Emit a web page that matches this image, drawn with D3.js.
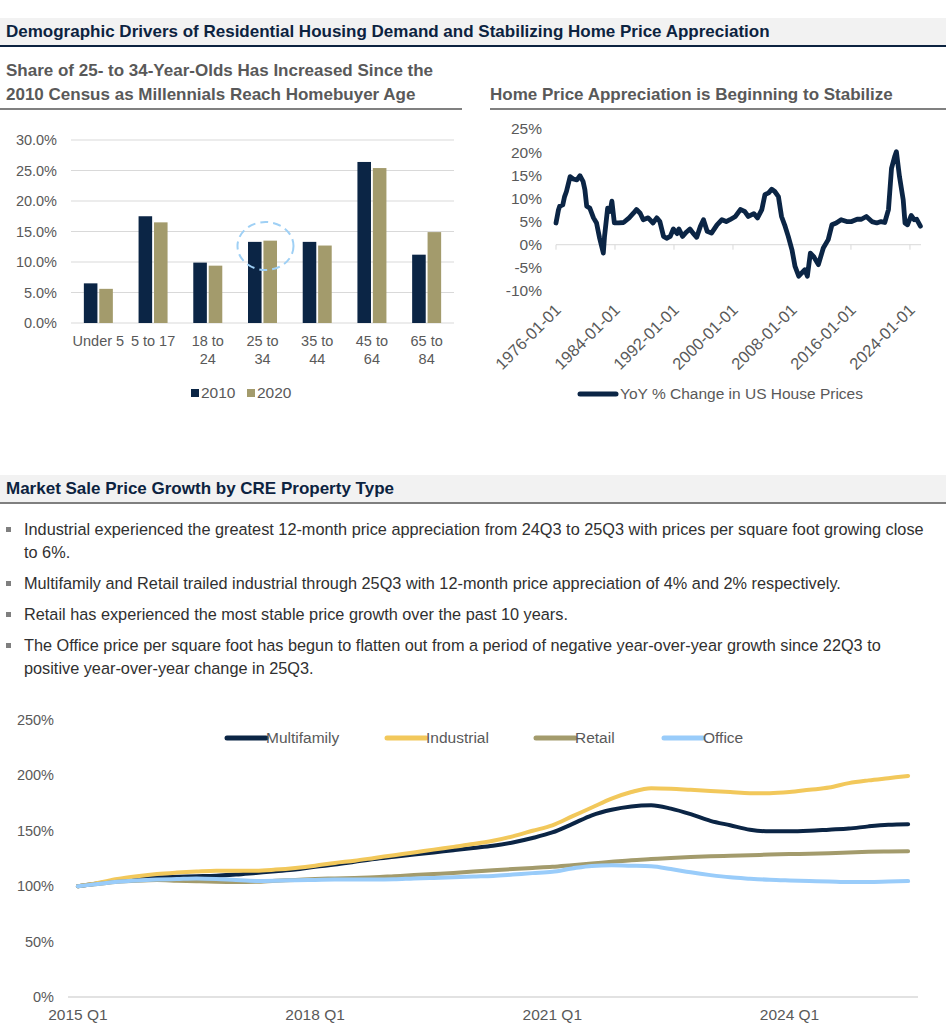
<!DOCTYPE html>
<html lang="en">
<head>
<meta charset="UTF-8" />
<title>Demographic Drivers / CRE Price Growth</title>
<script src="https://d3js.org/d3.v7.min.js"></script>
<style>
  body { margin: 0; background: #fff; }
  svg { display: block; font-family: "Liberation Sans", Arial, sans-serif; }
  .axis text { fill: #595959; font-size: 14.5px; }
  .axis.big text { font-size: 15.5px; }
</style>
</head>
<body>
<svg id="page" width="949" height="1030"></svg>
<script>
// ---- data: population share by age group ----
const ageGroups = ["Under 5", "5 to 17", "18 to 24", "25 to 34", "35 to 44", "45 to 64", "65 to 84"];
const ageLabels = [["Under 5"], ["5 to 17"], ["18 to", "24"], ["25 to", "34"], ["35 to", "44"], ["45 to", "64"], ["65 to", "84"]];
const share2010 = [6.5, 17.5, 9.9, 13.3, 13.3, 26.4, 11.2];
const share2020 = [5.6, 16.5, 9.4, 13.5, 12.7, 25.4, 14.9];
const shareTicks = [0, 5, 10, 15, 20, 25, 30];

// ---- data: YoY % change in US house prices ----
const hpiDates = [1976.0, 1976.3, 1976.5, 1976.9, 1977.2, 1977.4, 1977.9, 1978.3, 1978.8, 1979.25, 1979.7, 1979.9,
  1980.2, 1980.6, 1981.1, 1981.5, 1981.9, 1982.4, 1982.6, 1983.0, 1983.3, 1983.55, 1983.9, 1984.5, 1985.2, 1985.9,
  1986.5, 1986.9, 1987.4, 1987.8, 1988.5, 1989.2, 1989.65, 1990.1, 1990.55, 1991.0, 1991.5, 1991.9, 1992.4, 1992.7,
  1993.2, 1993.7, 1994.2, 1994.6, 1995.1, 1995.6, 1996.0, 1996.5, 1997.1, 1997.8, 1998.5, 1999.1, 1999.6, 2000.3,
  2001.0, 2001.6, 2002.1, 2002.8, 2003.3, 2003.9, 2004.3, 2004.8, 2005.25, 2005.7, 2006.15, 2006.6, 2007.0, 2007.5,
  2008.0, 2008.4, 2008.9, 2009.3, 2009.75, 2010.1, 2010.5, 2010.9, 2011.6, 2012.25, 2012.9, 2013.4, 2014.0, 2014.7,
  2015.4, 2016.1, 2016.8, 2017.4, 2018.1, 2018.8, 2019.5, 2020.1, 2020.6, 2021.1, 2021.5, 2021.9, 2022.2, 2022.6,
  2023.1, 2023.35, 2023.65, 2024.2, 2024.6, 2024.9, 2025.45];
const hpiYoY = [4.7, 7.5, 8.3, 8.6, 10.4, 11.5, 14.7, 14.2, 14.0, 14.9, 13.7, 11.9,
  8.3, 7.9, 5.8, 4.7, 1.4, -1.8, 1.8, 7.9, 7.2, 9.4, 4.7, 4.7, 4.8, 5.8,
  6.8, 7.6, 6.8, 5.4, 5.8, 4.7, 5.8, 5.0, 1.8, 1.4, 1.8, 3.4, 2.4, 3.4,
  1.8, 2.7, 3.4, 2.5, 1.6, 4.0, 5.4, 2.9, 2.5, 4.3, 5.4, 5.0, 5.4, 6.1,
  7.6, 7.2, 6.1, 6.7, 5.8, 7.6, 10.8, 11.2, 12.0, 11.5, 10.4, 6.1, 4.3, 1.8,
  -1.1, -4.7, -6.8, -6.1, -5.4, -6.8, -1.8, -2.5, -4.3, -0.7, 1.1, 4.3, 4.7, 5.4,
  5.0, 5.0, 5.5, 5.5, 6.1, 5.0, 4.7, 5.0, 4.8, 7.6, 16.5, 19.0, 20.1, 14.7,
  9.7, 4.7, 4.3, 6.3, 5.4, 5.5, 4.0];
const hpiTicks = [25, 20, 15, 10, 5, 0, -5, -10];
const hpiYearTicks = [1976, 1984, 1992, 2000, 2008, 2016, 2024];

// ---- data: market sale price index by CRE property type (2015 Q1 = 100%) ----
const quarters = d3.range(2015, 2026).flatMap(y => [1, 2, 3, 4].map(q => y + " Q" + q)).slice(0, 43);
const multifamily = [100, 102.5, 105, 107, 108, 108.5, 109, 109.5, 110.5, 112, 113.5, 115, 117.5, 119.5, 122, 124.5,
  126.5, 128.5, 130.5, 132.5, 134.5, 136.5, 139.5, 143.5, 148.5, 156, 164, 169, 172, 173, 170, 165, 159, 155, 151,
  149.5, 149.5, 150, 151, 152, 154, 155.5, 156];
const industrial = [100, 103, 106.5, 109, 111, 112.3, 113.3, 114, 114, 114, 115, 116.5, 118.5, 121, 123, 125.5,
  128, 130.5, 133, 135.5, 138, 141, 145, 150, 155, 163, 171, 179, 185, 188.5, 188, 187, 186, 185, 184,
  184, 185, 187, 189, 193, 195.5, 197.5, 199.5];
const retail = [100, 102, 104, 105, 105.5, 105, 104.5, 104, 103.8, 104, 105, 105.7, 106.5, 107, 107.5, 108,
  109, 110, 111, 112, 113.2, 114.5, 115.5, 116.5, 117.5, 119, 120.5, 122, 123.5, 124.5, 125.5, 126.3, 127, 127.5, 128,
  128.5, 129, 129.3, 129.8, 130.4, 131, 131.3, 131.6];
const office = [100, 102, 104, 105.2, 106, 106.5, 107, 106.5, 105.5, 104.8, 105, 105.4, 105.7, 106, 106, 106,
  106.2, 107, 107.5, 108, 108.7, 109.3, 110.5, 111.8, 113, 116, 118.3, 118.8, 118.5, 118, 115.5, 112.5, 110, 108, 106.8,
  105.8, 105.2, 104.7, 104.3, 103.8, 103.8, 104.2, 104.6];
const creSeries = ["Multifamily", "Industrial", "Retail", "Office"];
const creTicks = [0, 50, 100, 150, 200, 250];
const creLabelQuarters = ["2015 Q1", "2018 Q1", "2021 Q1", "2024 Q1"];

const bullets = [
  ["Industrial experienced the greatest 12-month price appreciation from 24Q3 to 25Q3 with prices per square foot growing close",
   "to 6%."],
  ["Multifamily and Retail trailed industrial through 25Q3 with 12-month price appreciation of 4% and 2% respectively."],
  ["Retail has experienced the most stable price growth over the past 10 years."],
  ["The Office price per square foot has begun to flatten out from a period of negative year-over-year growth since 22Q3 to",
   "positive year-over-year change in 25Q3."]
];

const NAVY = "#0b2545", KHAKI = "#a39b6c", GOLD = "#f2c85b", SKY = "#99ccfa";
const GRID = "#d9d9d9", LABEL = "#595959";

const svg = d3.select("#page");

// ---------- headers ----------
function sectionHeader(y, text, lineColor) {
  svg.append("rect").attr("x", 0).attr("y", y).attr("width", 946).attr("height", 27).attr("fill", "#f2f2f2");
  svg.append("line").attr("x1", 0).attr("x2", 946).attr("y1", y + 28).attr("y2", y + 28)
    .attr("stroke", lineColor).attr("stroke-width", 2);
  svg.append("text").attr("x", 6).attr("y", y + 19).attr("fill", "#0c2340")
    .attr("font-size", 17).attr("font-weight", "bold").text(text);
}
sectionHeader(18, "Demographic Drivers of Residential Housing Demand and Stabilizing Home Price Appreciation", "#0c2340");
sectionHeader(475, "Market Sale Price Growth by CRE Property Type", "#7f7f7f");

const sub = svg.append("g").attr("fill", LABEL).attr("font-size", 17).attr("font-weight", "bold");
sub.append("text").attr("x", 6).attr("y", 76).text("Share of 25- to 34-Year-Olds Has Increased Since the");
sub.append("text").attr("x", 6).attr("y", 100).text("2010 Census as Millennials Reach Homebuyer Age");
sub.append("text").attr("x", 490).attr("y", 100).text("Home Price Appreciation is Beginning to Stabilize");
svg.append("line").attr("x1", 0).attr("x2", 462).attr("y1", 109).attr("y2", 109).attr("stroke", "#808080").attr("stroke-width", 2);
svg.append("line").attr("x1", 490).attr("x2", 946).attr("y1", 109).attr("y2", 109).attr("stroke", "#808080").attr("stroke-width", 2);

// ---------- bar chart ----------
const xBand = d3.scaleBand().domain(ageGroups).range([71, 454]);
const xSub = d3.scaleBand().domain(["2010", "2020"]).range([0, 29]).paddingInner(0.12);
const yBar = d3.scaleLinear().domain([0, 30]).range([323, 140]);

const barG = svg.append("g");
barG.append("g")
  .selectAll("line").data(shareTicks).join("line")
  .attr("x1", 71).attr("x2", 454).attr("y1", d => yBar(d)).attr("y2", d => yBar(d))
  .attr("stroke", GRID).attr("stroke-width", 1);
barG.append("g").attr("class", "axis")
  .selectAll("text").data(shareTicks).join("text")
  .attr("x", 57).attr("y", d => yBar(d)).attr("dy", "0.35em").attr("text-anchor", "end")
  .text(d => d.toFixed(1) + "%");

const groupOffset = (xBand.bandwidth() - 29) / 2;
[["2010", share2010, NAVY], ["2020", share2020, KHAKI]].forEach(([yr, vals, col]) => {
  barG.append("g").selectAll("rect").data(vals).join("rect")
    .attr("x", (d, i) => xBand(ageGroups[i]) + groupOffset + xSub(yr))
    .attr("width", xSub.bandwidth())
    .attr("y", d => yBar(d)).attr("height", d => yBar(0) - yBar(d))
    .attr("fill", col);
});

const xl = barG.append("g").attr("class", "axis");
ageLabels.forEach((lines, i) => {
  const cx = xBand(ageGroups[i]) + xBand.bandwidth() / 2;
  const t = xl.append("text").attr("x", cx).attr("text-anchor", "middle");
  lines.forEach((s, j) => t.append("tspan").attr("x", cx).attr("y", 346 + j * 18).text(s));
});

// highlight around 25 to 34
barG.append("ellipse")
  .attr("cx", xBand("25 to 34") + xBand.bandwidth() / 2 + 3).attr("cy", 246)
  .attr("rx", 28).attr("ry", 24)
  .attr("fill", "none").attr("stroke", "#9fd0f5").attr("stroke-width", 2).attr("stroke-dasharray", "8,5");

const barLeg = svg.append("g").attr("class", "axis big");
[["2010", NAVY, 191], ["2020", KHAKI, 247]].forEach(([lab, col, x]) => {
  barLeg.append("rect").attr("x", x).attr("y", 389).attr("width", 8).attr("height", 8).attr("fill", col);
  barLeg.append("text").attr("x", x + 10).attr("y", 393).attr("dy", "0.35em").text(lab);
});

// ---------- house price YoY line ----------
const toDate = v => new Date(Math.floor(v), Math.round((v % 1) * 12), 1);
const xTime = d3.scaleTime().domain([new Date(1976, 0, 1), new Date(2025, 6, 1)]).range([556, 921]);
const yHpi = d3.scaleLinear().domain([-10, 25]).range([291, 129]);

const hpiG = svg.append("g");
hpiG.append("line").attr("x1", 556).attr("x2", 921).attr("y1", yHpi(0)).attr("y2", yHpi(0))
  .attr("stroke", GRID).attr("stroke-width", 1);
hpiG.selectAll("line.tick").data(hpiYearTicks).join("line").attr("class", "tick")
  .attr("x1", d => xTime(new Date(d, 0, 1))).attr("x2", d => xTime(new Date(d, 0, 1)))
  .attr("y1", yHpi(0)).attr("y2", yHpi(0) + 5).attr("stroke", GRID);
hpiG.append("g").attr("class", "axis big").selectAll("text").data(hpiTicks).join("text")
  .attr("x", 542).attr("y", d => yHpi(d)).attr("dy", "0.35em").attr("text-anchor", "end")
  .text(d => d + "%");
hpiG.append("g").attr("class", "axis").selectAll("text").data(hpiYearTicks).join("text")
  .attr("text-anchor", "end").attr("font-size", 16.5).style("font-size", "16.5px")
  .attr("transform", d => `translate(${xTime(new Date(d, 0, 1)) + 6},${311}) rotate(-45)`)
  .text(d => d + "-01-01");

const hpiData = hpiDates.map((d, i) => ({ date: toDate(d), v: hpiYoY[i] }));
hpiG.append("path").datum(hpiData)
  .attr("d", d3.line().x(d => xTime(d.date)).y(d => yHpi(d.v)))
  .attr("fill", "none").attr("stroke", NAVY).attr("stroke-width", 4.8)
  .attr("stroke-linejoin", "round").attr("stroke-linecap", "round");

const hpiLeg = svg.append("g").attr("class", "axis big");
hpiLeg.append("line").attr("x1", 580).attr("x2", 616).attr("y1", 394).attr("y2", 394)
  .attr("stroke", NAVY).attr("stroke-width", 5).attr("stroke-linecap", "round");
hpiLeg.append("text").attr("x", 620).attr("y", 394).attr("dy", "0.35em").text("YoY % Change in US House Prices");

// ---------- bullets ----------
const bg = svg.append("g").attr("font-size", 16.3).attr("fill", "#303030");
let by = 535;
bullets.forEach(lines => {
  bg.append("rect").attr("x", 6).attr("y", by - 8).attr("width", 5).attr("height", 5).attr("fill", "#7f7f7f");
  lines.forEach((s, j) => {
    bg.append("text").attr("x", 24).attr("y", by).text(s);
    by += (j < lines.length - 1) ? 23 : 31;
  });
});

// ---------- CRE lines ----------
const xQ = d3.scaleBand().domain(quarters).range([68, 918]);
const yCre = d3.scaleLinear().domain([0, 250]).range([997, 720]);
const creG = svg.append("g");
creG.append("line").attr("x1", 68).attr("x2", 918).attr("y1", yCre(0)).attr("y2", yCre(0))
  .attr("stroke", GRID).attr("stroke-width", 1.5);
creG.append("g").attr("class", "axis").selectAll("text").data(creTicks).join("text")
  .attr("x", 54).attr("y", d => yCre(d)).attr("dy", "0.35em").attr("text-anchor", "end")
  .text(d => d + "%");
creG.append("g").attr("class", "axis big").selectAll("text").data(creLabelQuarters).join("text")
  .attr("x", d => xQ(d) + xQ.bandwidth() / 2).attr("y", 1015).attr("dy", "0.35em").attr("text-anchor", "middle")
  .text(d => d);

const creValues = [multifamily, industrial, retail, office];
const creColors = [NAVY, GOLD, KHAKI, SKY];
const creLine = d3.line().x((d, i) => xQ(quarters[i]) + xQ.bandwidth() / 2).y(d => yCre(d)).curve(d3.curveMonotoneX);
creValues.forEach((vals, k) => {
  creG.append("path").datum(vals).attr("d", creLine)
    .attr("fill", "none").attr("stroke", creColors[k]).attr("stroke-width", 4)
    .attr("stroke-linecap", "round").attr("stroke-linejoin", "round");
});

const creLeg = svg.append("g").attr("class", "axis big");
const legX = [227, 387, 536, 664];
creSeries.forEach((name, k) => {
  creLeg.append("line").attr("x1", legX[k]).attr("x2", legX[k] + 39).attr("y1", 738).attr("y2", 738)
    .attr("stroke", creColors[k]).attr("stroke-width", 5).attr("stroke-linecap", "round");
  creLeg.append("text").attr("x", legX[k] + 39).attr("y", 738).attr("dy", "0.35em").text(name);
});
</script>
</body>
</html>
